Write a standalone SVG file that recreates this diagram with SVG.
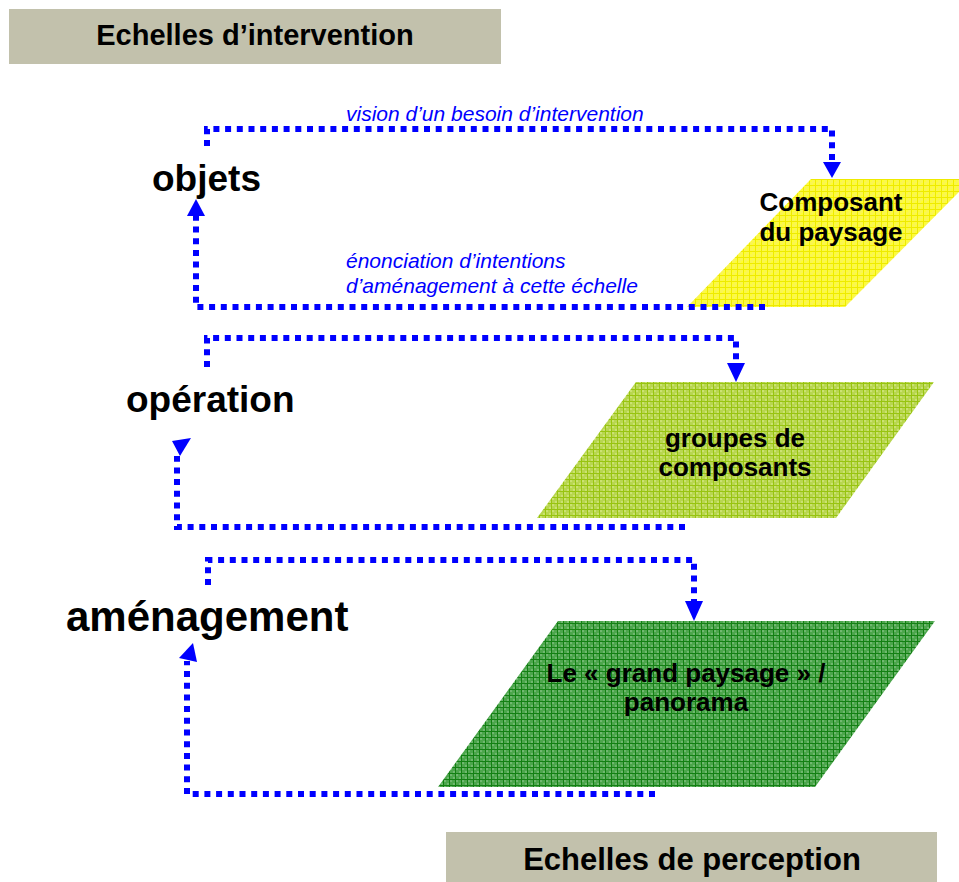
<svg xmlns="http://www.w3.org/2000/svg" width="959" height="882" viewBox="0 0 959 882">
<style>
.title{font-family:"Liberation Sans",Arial,sans-serif;font-weight:bold;fill:#000;text-anchor:middle}
.lvl{font-family:"Liberation Sans",Arial,sans-serif;font-weight:bold;fill:#000}
.ptxt{font-family:"Liberation Sans",Arial,sans-serif;font-weight:bold;font-size:26px;fill:#000;text-anchor:middle}
.note{font-family:"Liberation Sans",Arial,sans-serif;font-style:italic;font-size:21px;fill:#0000FF}
.dot{fill:none;stroke:#0000FF;stroke-width:6;stroke-dasharray:6 5.7}
.head{fill:#0000FF}
</style>
<defs>
<pattern id="pY" width="6" height="6" patternUnits="userSpaceOnUse">
<rect width="6" height="6" fill="#FAF650"/>
<rect x="0" y="0" width="2" height="2" fill="#FFFF30"/>
<rect x="3" y="3" width="2" height="2" fill="#FFFF30"/>
<path d="M0 5.5H6M5.5 0V6" stroke="#EEEA00" stroke-width="1"/>
</pattern>
<pattern id="pL" width="6" height="6" patternUnits="userSpaceOnUse">
<rect width="6" height="6" fill="#B8D650"/>
<rect x="0" y="0" width="2" height="2" fill="#CBE272"/>
<rect x="3" y="3" width="2" height="2" fill="#CBE272"/>
<path d="M0 5.5H6M5.5 0V6" stroke="#98C410" stroke-width="1"/>
</pattern>
<pattern id="pG" width="6" height="6" patternUnits="userSpaceOnUse">
<rect width="6" height="6" fill="#4CA64C"/>
<rect x="0" y="0" width="2" height="2" fill="#70B870"/>
<rect x="3" y="3" width="2" height="2" fill="#70B870"/>
<path d="M0 5.5H6M5.5 0V6" stroke="#138013" stroke-width="1"/>
</pattern>
</defs>
<rect width="959" height="882" fill="#FFFFFF"/>

<g id="title-intervention">
<rect x="9" y="9" width="492" height="55" fill="#C2C1AC"/>
<text class="title" x="255" y="45" font-size="29">Echelles d’intervention</text>
</g>
<g id="title-perception">
<rect x="446" y="832" width="491" height="50" fill="#C2C1AC"/>
<text class="title" x="692" y="870" font-size="31">Echelles de perception</text>
</g>

<g id="node-composant">
<polygon points="811,179 972,179 845,307 687,307" fill="url(#pY)"/>
<text class="ptxt" x="831" y="211">Composant</text>
<text class="ptxt" x="831" y="241">du paysage</text>
</g>
<g id="node-groupes">
<polygon points="636,382 934,382 836,518 537,518" fill="url(#pL)"/>
<text class="ptxt" x="735" y="447">groupes de</text>
<text class="ptxt" x="735" y="476">composants</text>
</g>
<g id="node-grand-paysage">
<polygon points="558,621 935,621 815,787 438,787" fill="url(#pG)"/>
<text class="ptxt" x="686" y="682">Le « grand paysage » /</text>
<text class="ptxt" x="686" y="711">panorama</text>
</g>

<g id="level-objets"><text class="lvl" x="152" y="191" font-size="37">objets</text></g>
<g id="level-operation"><text class="lvl" x="126" y="412" font-size="37">opération</text></g>
<g id="level-amenagement"><text class="lvl" x="66" y="631" font-size="42">aménagement</text></g>

<g id="connectors">
<polyline class="dot" points="207,146 207,129 832,129 832,162"/>
<polygon class="head" points="823,162 841,162 832,178"/>
<polyline class="dot" points="765,307 196,307 196,216"/>
<polygon class="head" points="196,199 187,216 205,216"/>
<polyline class="dot" points="207,367 207,338 736,338 736,363"/>
<polygon class="head" points="727,363 745,363 736,382"/>
<polyline class="dot" points="685,527 177,527 177,456"/>
<polygon class="head" points="172,441 191,438 180,456"/>
<polyline class="dot" points="208,585 208,560 694,560 694,601"/>
<polygon class="head" points="685,601 703,601 694,621"/>
<polyline class="dot" points="655,794 187,794 187,661"/>
<polygon class="head" points="193,643 179,658 197,662"/>
</g>

<g id="labels">
<text class="note" x="346" y="121">vision d’un besoin d’intervention</text>
<text class="note" x="346" y="268">énonciation d’intentions</text>
<text class="note" x="346" y="293">d’aménagement à cette échelle</text>
</g>
</svg>
